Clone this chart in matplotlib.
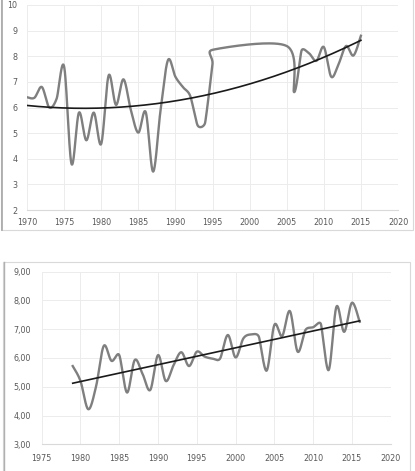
import numpy as np
import matplotlib
matplotlib.use("Agg")
import matplotlib.pyplot as plt
from matplotlib.patches import Rectangle

# ---- data ----
# top chart: yearly series (gap between 1995 and 2005, 1995 given twice)
top_years = [1970, 1971, 1972, 1973, 1974, 1975, 1976, 1977, 1978, 1979,
             1980, 1981, 1982, 1983, 1984, 1985, 1986, 1987, 1988, 1989,
             1990, 1991, 1992, 1993, 1994, 1995, 1995, 2005, 2006, 2007,
             2008, 2009, 2010, 2011, 2012, 2013, 2014, 2015]
top_values = [6.4, 6.38, 6.8, 6.0, 6.35, 7.6, 3.8, 5.8, 4.72, 5.8,
              4.58, 7.25, 6.1, 7.1, 5.9, 5.02, 5.82, 3.5, 5.9, 7.85,
              7.2, 6.8, 6.45, 5.3, 5.4, 7.7, 8.25, 8.4, 6.6, 8.22,
              8.12, 7.82, 8.36, 7.2, 7.7, 8.4, 8.03, 8.8]
top_xticks = [1970, 1975, 1980, 1985, 1990, 1995, 2000, 2005, 2010, 2015, 2020]
top_yticks = [2, 3, 4, 5, 6, 7, 8, 9, 10]

# bottom chart
bot_years = list(range(1979, 2017))
bot_values = [5.72, 5.2, 4.22, 5.0, 6.42, 5.9, 6.1, 4.8, 5.93, 5.45,
              4.89, 6.1, 5.2, 5.75, 6.2, 5.72, 6.22, 6.05, 5.98, 5.98,
              6.8, 6.02, 6.68, 6.82, 6.74, 5.56, 7.15, 6.76, 7.63, 6.22,
              6.97, 7.07, 7.18, 5.58, 7.78, 6.91, 7.92, 7.26]
bot_xticks = [1975, 1980, 1985, 1990, 1995, 2000, 2005, 2010, 2015, 2020]
bot_yticks = [3, 4, 5, 6, 7, 8, 9]
bot_ylabels = ["3,00", "4,00", "5,00", "6,00", "7,00", "8,00", "9,00"]

W, H = 415, 471
DATA_C = "#7f7f7f"
TREND_C = "#1a1a1a"
LABEL_C = "#595959"
GRID_C = "#ececec"


# excel-like smoothed line: bezier through the points, computed in pixel space
def excel_smooth(ax, xs, ys, steps=40, **kw):
    pts = ax.transData.transform(np.column_stack([xs, ys]))
    n = len(pts)
    tang = np.zeros_like(pts)
    for i in range(n):
        p0 = pts[max(i - 1, 0)]
        p1 = pts[i]
        p2 = pts[min(i + 1, n - 1)]
        d02 = np.hypot(*(p2 - p0))
        f = 1 / 6
        if 0 < i < n - 1 and d02 > 0:
            d01 = np.hypot(*(p1 - p0))
            d12 = np.hypot(*(p2 - p1))
            f = min(f, min(d01, d12) / (2 * d02))
        tang[i] = (p2 - p0) * f
    t = np.linspace(0, 1, steps)[:, None]
    out = [pts[:1]]
    for i in range(n - 1):
        a, d = pts[i], pts[i + 1]
        b, c = a + tang[i], d - tang[i + 1]
        seg = (1 - t) ** 3 * a + 3 * (1 - t) ** 2 * t * b + 3 * (1 - t) * t ** 2 * c + t ** 3 * d
        out.append(seg[1:])
    curve = ax.transData.inverted().transform(np.vstack(out))
    ax.plot(curve[:, 0], curve[:, 1], **kw)


def style_axes(ax):
    ax.grid(True, color=GRID_C, linewidth=0.7)
    ax.set_axisbelow(True)
    for s in ["top", "right", "left"]:
        ax.spines[s].set_visible(False)
    ax.spines["bottom"].set_color("#d9d9d9")
    ax.spines["bottom"].set_linewidth(0.8)
    ax.tick_params(length=0, labelsize=5.8, labelcolor=LABEL_C)


fig = plt.figure(figsize=(W / 100, H / 100), dpi=100)
fig.patch.set_facecolor("white")

# chart frames
fig.add_artist(Rectangle((1 / W, 241 / H), 412 / W, 240 / H, transform=fig.transFigure,
                         fill=False, edgecolor="#d9d9d9", linewidth=0.8))
fig.add_artist(plt.Line2D([1.5 / W, 1.5 / W], [241 / H, 1], transform=fig.transFigure,
                          color="#a6a6a6", linewidth=1.2))
fig.add_artist(Rectangle((3 / W, -10 / H), 407 / W, 219 / H, transform=fig.transFigure,
                         fill=False, edgecolor="#d9d9d9", linewidth=0.8))
fig.add_artist(plt.Line2D([3.5 / W, 3.5 / W], [0, 209 / H], transform=fig.transFigure,
                          color="#b0b0b0", linewidth=1.0))

# ---- top chart ----
ax1 = fig.add_axes([27 / W, 261 / H, 371 / W, 205 / H])
ax1.set_xlim(1970, 2020)
ax1.set_ylim(2, 10)
ax1.set_xticks(top_xticks)
ax1.set_yticks(top_yticks)
style_axes(ax1)
ax1.tick_params(axis="y", pad=7)
ax1.tick_params(axis="x", pad=6)

excel_smooth(ax1, top_years, top_values, color=DATA_C, linewidth=1.7, zorder=2)
c2 = np.polyfit(top_years, top_values, 2)
xt = np.linspace(min(top_years), max(top_years), 200)
ax1.plot(xt, np.polyval(c2, xt), color=TREND_C, linewidth=1.2, zorder=3)

# ---- bottom chart ----
ax2 = fig.add_axes([41.7 / W, 26.7 / H, 349 / W, 172.6 / H])
ax2.set_xlim(1975, 2020)
ax2.set_ylim(3, 9)
ax2.set_xticks(bot_xticks)
ax2.set_yticks(bot_yticks)
ax2.set_yticklabels(bot_ylabels)
style_axes(ax2)
ax2.tick_params(axis="y", pad=8)
ax2.tick_params(axis="x", pad=7)

excel_smooth(ax2, bot_years, bot_values, color=DATA_C, linewidth=1.7, zorder=2)
c1 = np.polyfit(bot_years, bot_values, 1)
xb = np.array([min(bot_years), max(bot_years)])
ax2.plot(xb, np.polyval(c1, xb), color=TREND_C, linewidth=1.2, zorder=3)

fig.savefig("out.png", dpi=100, facecolor="white")
